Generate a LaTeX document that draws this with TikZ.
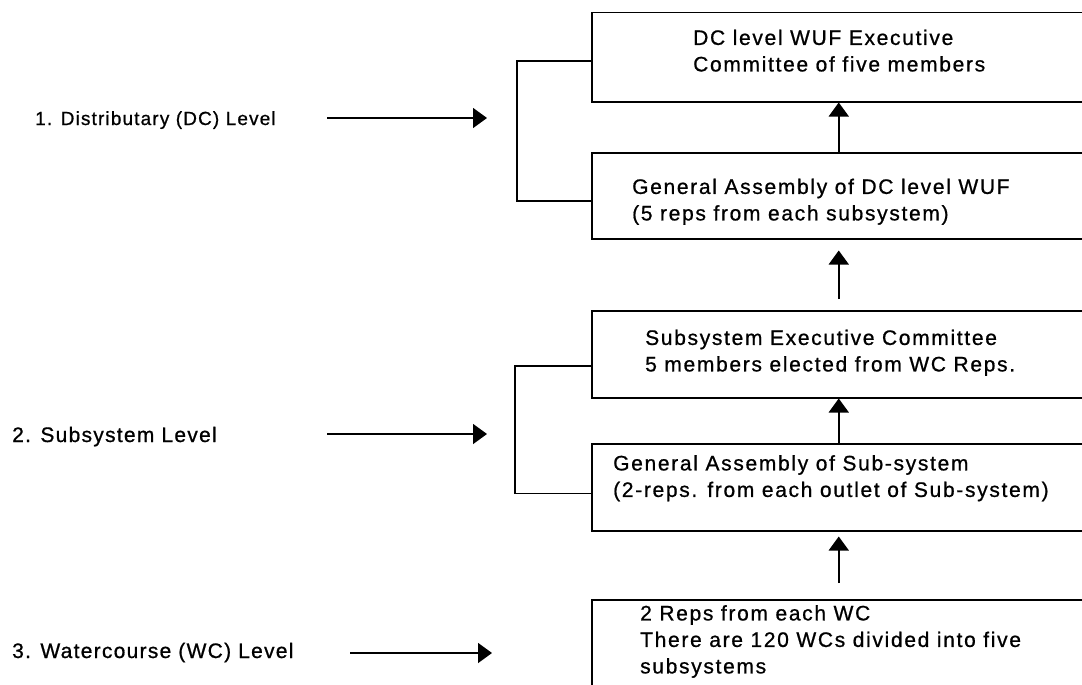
\documentclass[tikz,border=0pt]{standalone}
\usepackage{fontspec}
\setmainfont{Liberation Sans}[LetterSpace=6,FakeBold=0.8]
\newfontfamily\boxfont{Liberation Sans}[LetterSpace=8,FakeBold=0.8]
\usetikzlibrary{arrows.meta}
\begin{document}
\begin{tikzpicture}[x=1pt,y=-1pt,
  box/.style={draw,line width=1.5pt,anchor=north west,minimum width=494pt,inner sep=0pt},
  txt/.style={anchor=north west,inner sep=0pt,align=left,font=\boxfont\fontsize{21}{26.5}\selectfont},
  lbl/.style={anchor=base west,inner sep=0pt,font=\fontsize{21}{26.5}\selectfont},
  arr/.style={line width=1.5pt,-{Triangle[length=14pt,width=20pt]}},
  link/.style={line width=1.5pt}]
\useasboundingbox (0,0) rectangle (1082,685);
\clip (0,0) rectangle (1082,685);
% boxes
\node[box,minimum height=89pt] (b1) at (591,12) {};
\node[box,minimum height=86pt] (b2) at (591,152) {};
\node[box,minimum height=87pt] (b3) at (591,310) {};
\node[box,minimum height=87pt] (b4) at (591,443) {};
\node[box,minimum height=110pt] (b5) at (591,599) {};
% box texts
\node[txt] (t1) at (693,29.5) {DC level WUF Executive\\Committee of five members};
\node[txt] (t2) at (632,178.5) {General Assembly of DC level WUF\\(5 reps from each subsystem)};
\node[txt] (t3) at (645,329.5) {Subsystem Executive Committee\\5 members elected from WC Reps.};
\node[txt] (t4) at (613,455) {General Assembly of Sub-system\\(2-reps. from each outlet of Sub-system)};
\node[txt] (t5) at (640,605) {2 Reps from each WC\\There are 120 WCs divided into five\\subsystems};
% vertical arrows
\draw[arr] (b2.north) -- (b1.south);
\draw[arr] ([yshift=11pt]b3.north) -- ([yshift=-11pt]b2.south);
\draw[arr] (b4.north) -- (b3.south);
\draw[arr] ([yshift=16pt]b5.north) -- ([yshift=-5pt]b4.south);
% brackets
\coordinate (br1) at (517,130);
\coordinate (br2) at (515,430);
\draw[link] ([yshift=-4pt]b1.west) -| (br1) |- ([yshift=-5pt]b2.west);
\draw[link] ([yshift=-11.5pt]b3.west) -| (br2) |- ([yshift=-6pt]b4.west);
% level labels
\node[lbl,font=\fontsize{19}{24}\selectfont] (l1) at (35,125) {1. Distributary (DC) Level};
\node[lbl] (l2) at (12,442) {2. Subsystem Level};
\node[lbl] (l3) at (12,658) {3. Watercourse (WC) Level};
\coordinate (a1s) at (327,118); \coordinate (a1e) at (487,118);
\coordinate (a2s) at (327,434); \coordinate (a2e) at (487,434);
\coordinate (a3s) at (350,653); \coordinate (a3e) at (492,653);
\draw[arr] (a1s) -- (a1e);
\draw[arr] (a2s) -- (a2e);
\draw[arr] (a3s) -- (a3e);
\end{tikzpicture}
\end{document}
